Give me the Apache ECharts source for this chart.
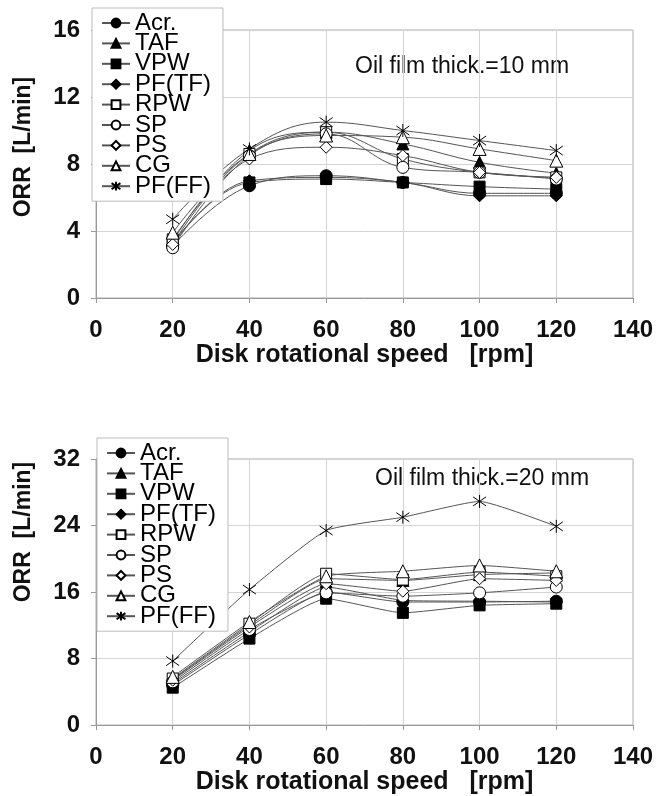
<!DOCTYPE html>
<html>
<head>
<meta charset="utf-8">
<script src="https://cdn.jsdelivr.net/npm/echarts@6/dist/echarts.min.js"></script>
<style>
  html, body { margin: 0; padding: 0; background: #fff; }
  #chart { width: 664px; height: 796px; }
</style>
</head>
<body>
<div id="chart"></div>
<script>
// rotational speed [rpm]
const speeds = [20, 40, 60, 80, 100, 120]
const names = ['Acr.', 'TAF', 'VPW', 'PF(TF)', 'RPW', 'SP', 'PS', 'CG', 'PF(FF)']

// ORR [L/min], oil film 10 mm
const acr10  = [3.1, 6.7, 7.3, 6.9, 6.25, 6.25]
const taf10  = [3.4, 8.8, 9.9, 9.2, 8.1, 7.45]
const vpw10  = [3.3, 6.9, 7.1, 6.9, 6.65, 6.5]
const pftf10 = [3.2, 7.0, 7.2, 6.9, 6.1, 6.1]
const rpw10  = [3.5, 8.6, 9.9, 8.3, 7.5, 7.2]
const sp10   = [3.0, 8.5, 9.8, 7.8, 7.5, 7.1]
const ps10   = [3.2, 8.3, 9.0, 8.5, 7.5, 7.2]
const cg10   = [3.9, 8.6, 9.7, 9.6, 8.9, 8.2]
const pfff10 = [4.7, 8.9, 10.5, 10.0, 9.4, 8.8]

// ORR [L/min], oil film 20 mm
const acr20  = [4.8, 10.9, 16.0, 14.8, 14.8, 14.9]
const taf20  = [5.5, 12.0, 17.6, 17.4, 18.1, 18.3]
const vpw20  = [4.5, 10.4, 15.2, 13.5, 14.4, 14.6]
const pftf20 = [5.0, 11.2, 16.6, 15.0, 14.9, 14.8]
const rpw20  = [5.6, 12.2, 18.2, 17.5, 18.4, 17.9]
const sp20   = [5.2, 11.5, 15.9, 15.5, 15.9, 16.6]
const ps20   = [5.4, 11.8, 17.0, 16.1, 17.6, 17.4]
const cg20   = [5.8, 12.4, 17.9, 18.5, 19.2, 18.5]
const pfff20 = [7.7, 16.3, 23.4, 25.0, 26.9, 23.9]

const yTicks10 = { min: 0, max: 16, interval: 4 }
const yTicks20 = { min: 0, max: 32, interval: 8 }

const FONT = 'Liberation Sans'
const star = 'path://M-7,-7L7,7M-7,7L7,-7M0,-10L0,10'
const markers = [
  { symbol: 'circle', size: 12, fill: '#000' },
  { symbol: 'triangle', size: 12, fill: '#000' },
  { symbol: 'rect', size: 11, fill: '#000' },
  { symbol: 'diamond', size: 12, fill: '#000' },
  { symbol: 'rect', size: 11, fill: '#fff' },
  { symbol: 'circle', size: 12, fill: '#fff' },
  { symbol: 'diamond', size: 12, fill: '#fff' },
  { symbol: 'triangle', size: 13, fill: '#fff' },
  { symbol: star, size: 13, fill: 'none' }
]

function makeSeries(list, idx, smooth) {
  return list.map((vals, i) => ({
    name: names[i],
    type: 'line',
    xAxisIndex: idx,
    yAxisIndex: idx,
    smooth: smooth,
    data: speeds.map((s, k) => [s, vals[k]]),
    symbol: markers[i].symbol,
    symbolSize: markers[i].size,
    lineStyle: { color: '#555', width: 1 },
    itemStyle: { color: markers[i].fill, borderColor: '#000', borderWidth: 1 },
    z: 3
  }))
}

function xAxis(idx) {
  return {
    type: 'value', gridIndex: idx, min: 0, max: 140, interval: 20,
    name: 'Disk rotational speed   [rpm]', nameLocation: 'middle', nameGap: 41,
    nameTextStyle: { fontFamily: FONT, fontWeight: 'bold', fontSize: 25, color: '#111' },
    axisLine: { lineStyle: { color: '#999' } },
    axisTick: { show: true, length: 5, lineStyle: { color: '#999' } },
    axisLabel: { margin: 20, fontFamily: FONT, fontWeight: 'bold', fontSize: 24, color: '#111' },
    splitLine: { show: true, lineStyle: { color: '#d4d4d4' } }
  }
}

function yAxis(idx, t) {
  return {
    type: 'value', gridIndex: idx, min: t.min, max: t.max, interval: t.interval,
    axisLine: { show: true, lineStyle: { color: '#999' } },
    axisTick: { show: true, length: 5, lineStyle: { color: '#999' } },
    axisLabel: { margin: 16, fontFamily: FONT, fontWeight: 'bold', fontSize: 24, color: '#111' },
    splitLine: { show: true, lineStyle: { color: '#d4d4d4' } }
  }
}

function legend(left, top) {
  return {
    data: names, orient: 'vertical', left: left, top: top,
    itemWidth: 28, itemHeight: 11, itemGap: -3.6,
    padding: [3, 12, 3, 9],
    borderColor: '#bbb', borderWidth: 1, backgroundColor: '#fff',
    textStyle: { fontFamily: FONT, fontSize: 24, color: '#000' },
    selectedMode: false, z: 10
  }
}

function yTitle(x, y) {
  return {
    type: 'text', x: x, y: y, rotation: Math.PI / 2,
    style: { text: 'ORR  [L/min]', font: 'bold 23px "Liberation Sans"', fill: '#111', align: 'center', verticalAlign: 'middle' }
  }
}

const chart = echarts.init(document.getElementById('chart'))
chart.setOption({
  animation: false,
  backgroundColor: '#fff',
  grid: [
    { left: 96, right: 31, top: 30, height: 268, show: true, borderColor: '#aaa', borderWidth: 1 },
    { left: 96, right: 31, top: 459, height: 271, show: true, borderColor: '#aaa', borderWidth: 1 }
  ],
  xAxis: [xAxis(0), xAxis(1)],
  yAxis: [yAxis(0, yTicks10), yAxis(1, yTicks20)],
  legend: [legend(92, 8), legend(97, 438)],
  graphic: [
    yTitle(24, 147),
    yTitle(24, 532),
    { type: 'text', left: 355, top: 55, style: { text: 'Oil film thick.=10 mm', font: '23px "Liberation Sans"', fill: '#111' } },
    { type: 'text', left: 375, top: 467, style: { text: 'Oil film thick.=20 mm', font: '23px "Liberation Sans"', fill: '#111' } }
  ],
  series: [
    ...makeSeries([acr10, taf10, vpw10, pftf10, rpw10, sp10, ps10, cg10, pfff10], 0, 0.4),
    ...makeSeries([acr20, taf20, vpw20, pftf20, rpw20, sp20, ps20, cg20, pfff20], 1, 0.15)
  ]
})
</script>
</body>
</html>
